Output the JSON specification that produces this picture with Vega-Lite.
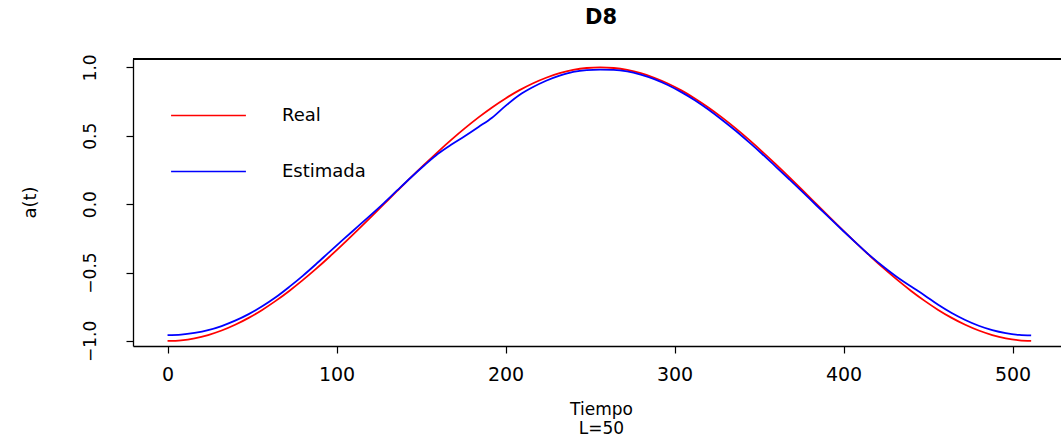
{
  "$schema": "https://vega.github.io/schema/vega-lite/v6.json",
  "autosize": {"type": "none"},
  "padding": {"left": 133, "top": 59, "right": 0, "bottom": 95},
  "width": 928,
  "height": 287,
  "background": "white",
  "config": {"view": {"stroke": null}, "font": "DejaVu Sans"},
  "title": {"text": "D8", "font": "DejaVu Sans", "fontSize": 21, "fontWeight": "bold", "color": "black", "anchor": "middle", "dx": 4, "offset": 26},
  "datasets": {
    "curves": [
      {"t": 0, "v": -1, "s": "Real"},
      {"t": 8, "v": -0.99518, "s": "Real"},
      {"t": 16, "v": -0.98079, "s": "Real"},
      {"t": 24, "v": -0.95694, "s": "Real"},
      {"t": 32, "v": -0.92388, "s": "Real"},
      {"t": 40, "v": -0.88192, "s": "Real"},
      {"t": 48, "v": -0.83147, "s": "Real"},
      {"t": 56, "v": -0.77301, "s": "Real"},
      {"t": 64, "v": -0.70711, "s": "Real"},
      {"t": 72, "v": -0.63439, "s": "Real"},
      {"t": 80, "v": -0.55557, "s": "Real"},
      {"t": 88, "v": -0.4714, "s": "Real"},
      {"t": 96, "v": -0.38268, "s": "Real"},
      {"t": 104, "v": -0.29028, "s": "Real"},
      {"t": 112, "v": -0.19509, "s": "Real"},
      {"t": 120, "v": -0.09802, "s": "Real"},
      {"t": 128, "v": 0, "s": "Real"},
      {"t": 136, "v": 0.09802, "s": "Real"},
      {"t": 144, "v": 0.19509, "s": "Real"},
      {"t": 152, "v": 0.29028, "s": "Real"},
      {"t": 160, "v": 0.38268, "s": "Real"},
      {"t": 168, "v": 0.4714, "s": "Real"},
      {"t": 176, "v": 0.55557, "s": "Real"},
      {"t": 184, "v": 0.63439, "s": "Real"},
      {"t": 192, "v": 0.70711, "s": "Real"},
      {"t": 200, "v": 0.77301, "s": "Real"},
      {"t": 208, "v": 0.83147, "s": "Real"},
      {"t": 216, "v": 0.88192, "s": "Real"},
      {"t": 224, "v": 0.92388, "s": "Real"},
      {"t": 232, "v": 0.95694, "s": "Real"},
      {"t": 240, "v": 0.98079, "s": "Real"},
      {"t": 248, "v": 0.99518, "s": "Real"},
      {"t": 256, "v": 1, "s": "Real"},
      {"t": 264, "v": 0.99518, "s": "Real"},
      {"t": 272, "v": 0.98079, "s": "Real"},
      {"t": 280, "v": 0.95694, "s": "Real"},
      {"t": 288, "v": 0.92388, "s": "Real"},
      {"t": 296, "v": 0.88192, "s": "Real"},
      {"t": 304, "v": 0.83147, "s": "Real"},
      {"t": 312, "v": 0.77301, "s": "Real"},
      {"t": 320, "v": 0.70711, "s": "Real"},
      {"t": 328, "v": 0.63439, "s": "Real"},
      {"t": 336, "v": 0.55557, "s": "Real"},
      {"t": 344, "v": 0.4714, "s": "Real"},
      {"t": 352, "v": 0.38268, "s": "Real"},
      {"t": 360, "v": 0.29028, "s": "Real"},
      {"t": 368, "v": 0.19509, "s": "Real"},
      {"t": 376, "v": 0.09802, "s": "Real"},
      {"t": 384, "v": 0, "s": "Real"},
      {"t": 392, "v": -0.09802, "s": "Real"},
      {"t": 400, "v": -0.19509, "s": "Real"},
      {"t": 408, "v": -0.29028, "s": "Real"},
      {"t": 416, "v": -0.38268, "s": "Real"},
      {"t": 424, "v": -0.4714, "s": "Real"},
      {"t": 432, "v": -0.55557, "s": "Real"},
      {"t": 440, "v": -0.63439, "s": "Real"},
      {"t": 448, "v": -0.70711, "s": "Real"},
      {"t": 456, "v": -0.77301, "s": "Real"},
      {"t": 464, "v": -0.83147, "s": "Real"},
      {"t": 472, "v": -0.88192, "s": "Real"},
      {"t": 480, "v": -0.92388, "s": "Real"},
      {"t": 488, "v": -0.95694, "s": "Real"},
      {"t": 496, "v": -0.98079, "s": "Real"},
      {"t": 504, "v": -0.99518, "s": "Real"},
      {"t": 511, "v": -0.99992, "s": "Real"},
      {"t": 0, "v": -0.958, "s": "Estimada"},
      {"t": 8, "v": -0.954, "s": "Estimada"},
      {"t": 16, "v": -0.941, "s": "Estimada"},
      {"t": 24, "v": -0.921, "s": "Estimada"},
      {"t": 32, "v": -0.891, "s": "Estimada"},
      {"t": 40, "v": -0.852, "s": "Estimada"},
      {"t": 48, "v": -0.804, "s": "Estimada"},
      {"t": 56, "v": -0.747, "s": "Estimada"},
      {"t": 64, "v": -0.681, "s": "Estimada"},
      {"t": 72, "v": -0.605, "s": "Estimada"},
      {"t": 80, "v": -0.524, "s": "Estimada"},
      {"t": 88, "v": -0.437, "s": "Estimada"},
      {"t": 96, "v": -0.347, "s": "Estimada"},
      {"t": 104, "v": -0.258, "s": "Estimada"},
      {"t": 112, "v": -0.17, "s": "Estimada"},
      {"t": 120, "v": -0.082, "s": "Estimada"},
      {"t": 128, "v": 0.008, "s": "Estimada"},
      {"t": 136, "v": 0.102, "s": "Estimada"},
      {"t": 144, "v": 0.195, "s": "Estimada"},
      {"t": 152, "v": 0.284, "s": "Estimada"},
      {"t": 160, "v": 0.368, "s": "Estimada"},
      {"t": 168, "v": 0.436, "s": "Estimada"},
      {"t": 176, "v": 0.498, "s": "Estimada"},
      {"t": 184, "v": 0.564, "s": "Estimada"},
      {"t": 192, "v": 0.632, "s": "Estimada"},
      {"t": 200, "v": 0.718, "s": "Estimada"},
      {"t": 208, "v": 0.796, "s": "Estimada"},
      {"t": 216, "v": 0.854, "s": "Estimada"},
      {"t": 224, "v": 0.902, "s": "Estimada"},
      {"t": 232, "v": 0.939, "s": "Estimada"},
      {"t": 240, "v": 0.967, "s": "Estimada"},
      {"t": 248, "v": 0.98, "s": "Estimada"},
      {"t": 256, "v": 0.983, "s": "Estimada"},
      {"t": 264, "v": 0.982, "s": "Estimada"},
      {"t": 272, "v": 0.971, "s": "Estimada"},
      {"t": 280, "v": 0.947, "s": "Estimada"},
      {"t": 288, "v": 0.914, "s": "Estimada"},
      {"t": 296, "v": 0.871, "s": "Estimada"},
      {"t": 304, "v": 0.819, "s": "Estimada"},
      {"t": 312, "v": 0.76, "s": "Estimada"},
      {"t": 320, "v": 0.692, "s": "Estimada"},
      {"t": 328, "v": 0.617, "s": "Estimada"},
      {"t": 336, "v": 0.538, "s": "Estimada"},
      {"t": 344, "v": 0.453, "s": "Estimada"},
      {"t": 352, "v": 0.365, "s": "Estimada"},
      {"t": 360, "v": 0.273, "s": "Estimada"},
      {"t": 368, "v": 0.18, "s": "Estimada"},
      {"t": 376, "v": 0.086, "s": "Estimada"},
      {"t": 384, "v": -0.01, "s": "Estimada"},
      {"t": 392, "v": -0.104, "s": "Estimada"},
      {"t": 400, "v": -0.198, "s": "Estimada"},
      {"t": 408, "v": -0.29, "s": "Estimada"},
      {"t": 416, "v": -0.38, "s": "Estimada"},
      {"t": 424, "v": -0.461, "s": "Estimada"},
      {"t": 432, "v": -0.536, "s": "Estimada"},
      {"t": 440, "v": -0.602, "s": "Estimada"},
      {"t": 448, "v": -0.667, "s": "Estimada"},
      {"t": 456, "v": -0.736, "s": "Estimada"},
      {"t": 464, "v": -0.796, "s": "Estimada"},
      {"t": 472, "v": -0.847, "s": "Estimada"},
      {"t": 480, "v": -0.889, "s": "Estimada"},
      {"t": 488, "v": -0.921, "s": "Estimada"},
      {"t": 496, "v": -0.943, "s": "Estimada"},
      {"t": 504, "v": -0.956, "s": "Estimada"},
      {"t": 511, "v": -0.96, "s": "Estimada"}
    ]
  },
  "data": {"name": "curves"},
  "encoding": {
    "x": {
      "field": "t", "type": "quantitative",
      "scale": {"domain": [-20.44, 528.66], "nice": false, "zero": false},
      "axis": {
        "values": [0, 100, 200, 300, 400, 500],
        "title": ["Tiempo", "L=50"],
        "titleFont": "DejaVu Sans", "titleFontSize": 17, "titleFontWeight": "normal", "titleColor": "black",
        "titleLineHeight": 19, "titleX": 468, "titleY": 55, "titleAlign": "center", "titleBaseline": "top", "titleAnchor": null,
        "labelFont": "DejaVu Sans", "labelFontSize": 19, "labelColor": "black", "labelPadding": 12,
        "tickSize": 7, "tickColor": "black", "tickWidth": 1.2,
        "domainColor": "black", "domainWidth": 1.3, "grid": false, "labelFlush": false
      }
    },
    "y": {
      "field": "v", "type": "quantitative",
      "scale": {"domain": [-1.037, 1.061], "nice": false, "zero": false},
      "axis": {
        "values": [-1, -0.5, 0, 0.5, 1],
        "format": ".1f",
        "title": "a(t)",
        "titleFont": "DejaVu Sans", "titleFontSize": 18, "titleFontWeight": "normal", "titleColor": "black",
        "titleAngle": -90, "titleX": -103, "titleY": 143, "titleAlign": "center", "titleBaseline": "middle", "titleAnchor": null,
        "labelFont": "DejaVu Sans", "labelFontSize": 17, "labelColor": "black", "labelAngle": -90, "labelAlign": "center", "labelBaseline": "bottom", "labelPadding": 27,
        "tickSize": 7, "tickColor": "black", "tickWidth": 1.2,
        "domainColor": "black", "domainWidth": 1.3, "grid": false, "labelFlush": false
      }
    },
    "color": {
      "field": "s", "type": "nominal",
      "scale": {"domain": ["Real", "Estimada"], "range": ["#FF0000", "#0000FF"]},
      "legend": {
        "title": null, "orient": "none", "legendX": 65, "legendY": 46, "padding": 0,
        "symbolType": "M-4,0H4", "symbolSize": 350, "symbolStrokeWidth": 1.5, "symbolFillColor": "transparent",
        "labelFont": "DejaVu Sans", "labelFontSize": 18, "labelColor": "black", "labelOffset": 63,
        "rowPadding": 36
      }
    }
  },
  "layer": [
    {
      "transform": [{"filter": "datum.s === 'Real'"}],
      "mark": {"type": "line", "strokeWidth": 1.8, "interpolate": "monotone", "clip": false}
    },
    {
      "transform": [{"filter": "datum.s === 'Estimada'"}],
      "mark": {"type": "line", "strokeWidth": 1.8, "interpolate": "monotone", "clip": false}
    },
    {
      "mark": {"type": "rule", "color": "black", "strokeWidth": 1.3},
      "encoding": {
        "x": {"datum": -20.44},
        "x2": {"datum": 528.66},
        "y": {"datum": 1.061},
        "color": {"value": "black"}
      }
    }
  ]
}
